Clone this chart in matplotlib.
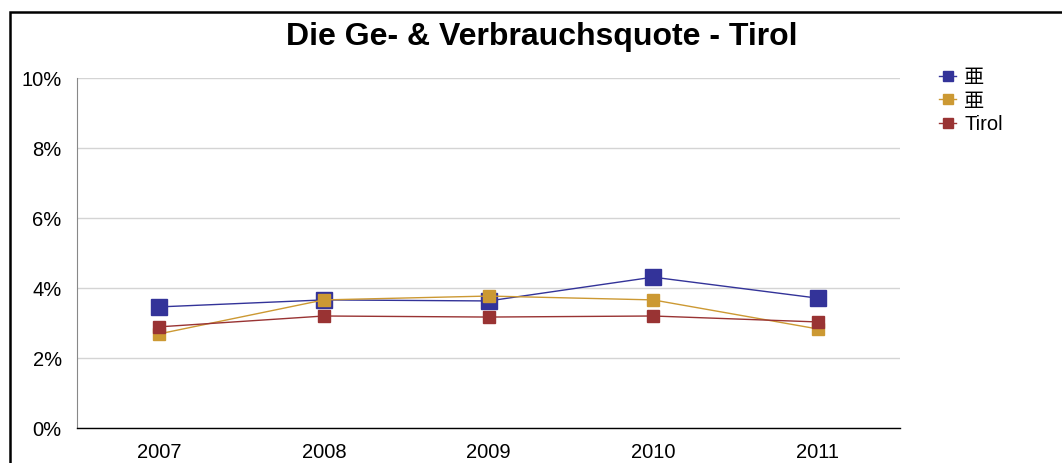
import matplotlib
matplotlib.use("Agg")
import matplotlib.pyplot as plt
from matplotlib.patches import Rectangle
from matplotlib.lines import Line2D

years = ["2007", "2008", "2009", "2010", "2011"]
series_names = ["亜", "亜", "Tirol"]
blue_vals = [3.46, 3.66, 3.63, 4.31, 3.71]
gold_vals = [2.69, 3.66, 3.77, 3.66, 2.83]
red_vals = [2.89, 3.20, 3.17, 3.20, 3.03]
yticks = [0, 2, 4, 6, 8, 10]
ytick_labels = ["0%", "2%", "4%", "6%", "8%", "10%"]

plt.rcParams['font.family'] = ['Liberation Sans', 'Noto Sans CJK SC', 'DejaVu Sans']

W, H = 1062, 463
fig = plt.figure(figsize=(W/100, H/100), dpi=100)
ax = fig.add_axes([77/W, 1-428/H, (900-77)/W, (428-78)/H])

x = [i + 0.5 for i in range(len(years))]
colors = ["#333399", "#CC9933", "#993333"]
msizes = [12, 8, 8]
handles = []
for vals, c, ms, name in zip([blue_vals, gold_vals, red_vals], colors, msizes, series_names):
    ax.plot(x, vals, color=c, lw=1, marker='s', ms=ms, mec=c, mfc=c, zorder=3)
    handles.append(Line2D([0], [0], color=c, lw=1, marker='s', ms=7.5, mec=c, mfc=c))

ax.set_xlim(0, 5)
ax.set_ylim(0, 10)
ax.set_xticks(x)
ax.set_xticklabels(years)
ax.set_yticks(yticks)
ax.set_yticklabels(ytick_labels)
ax.tick_params(length=0, labelsize=14.5)
ax.tick_params(axis='x', pad=11)
ax.tick_params(axis='y', pad=11)
ax.grid(axis='y', color='#d4d4d4', lw=1)
ax.set_axisbelow(True)
for s in ['top', 'right']:
    ax.spines[s].set_visible(False)
ax.spines['left'].set_color('#888888')
ax.spines['bottom'].set_color('black')
ax.spines['bottom'].set_linewidth(1)

fig.text(542/W, 1-37/H, "Die Ge- & Verbrauchsquote - Tirol", ha='center', va='center',
         fontsize=23, fontweight='bold')

fig.legend(handles, series_names, loc='upper left', bbox_to_anchor=(929/W, 1-58/H),
           frameon=False, fontsize=14.5, handlelength=0.85, handletextpad=0.4,
           labelspacing=0.22, borderpad=0)

fig.patches.append(Rectangle((10/W, -0.1), 1.2, 1-12/H+0.1, transform=fig.transFigure,
                             fill=False, ec='black', lw=1.8))

fig.savefig("out.png", dpi=100)
